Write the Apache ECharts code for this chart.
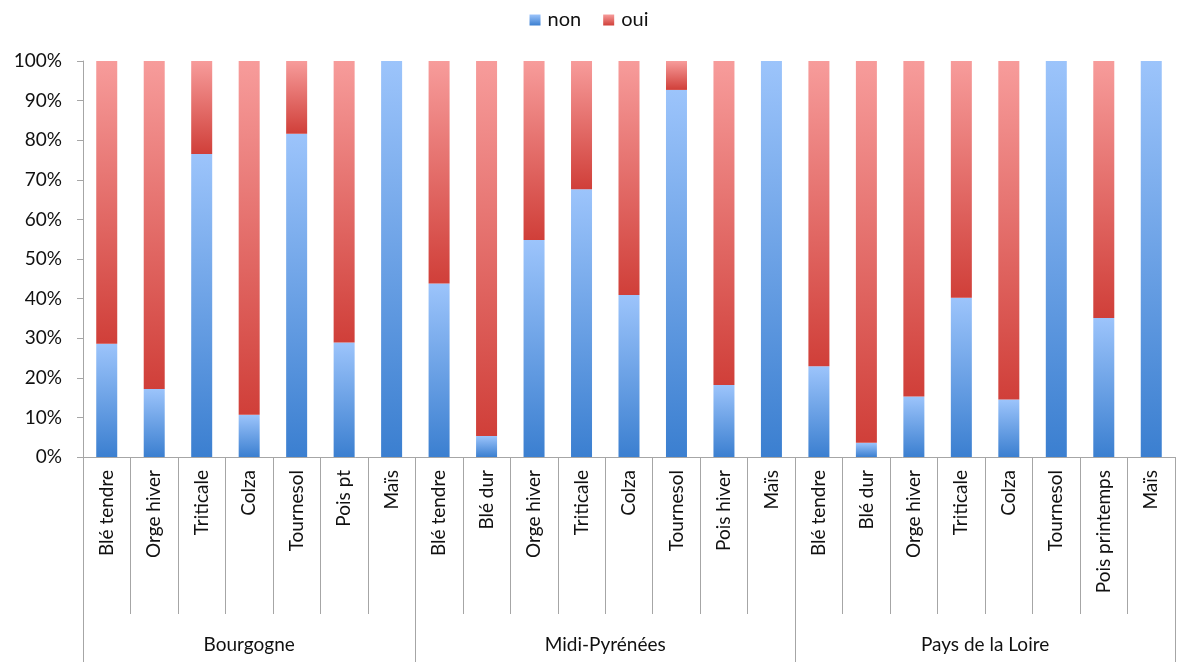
<!DOCTYPE html>
<html>
<head>
<meta charset="utf-8">
<script src="https://cdn.jsdelivr.net/npm/echarts@6/dist/echarts.min.js"></script>
<style>
html,body{margin:0;padding:0;background:#fff;}
#chart{width:1178px;height:663px;}
</style>
</head>
<body>
<div id="chart"></div>
<script>
// Categories (crop per region)
const crops = [
  'Blé tendre','Orge hiver','Triticale','Colza','Tournesol','Pois pt','Maïs',
  'Blé tendre','Blé dur','Orge hiver','Triticale','Colza','Tournesol','Pois hiver','Maïs',
  'Blé tendre','Blé dur','Orge hiver','Triticale','Colza','Tournesol','Pois printemps','Maïs'
];
const regions = ['Bourgogne','Midi-Pyrénées','Pays de la Loire'];
const regionSizes = [7, 8, 8];
// share "non" (%)
const nonValues = [
  28.6, 17.2, 76.5, 10.7, 81.6, 28.9, 100,
  43.8, 5.3, 54.8, 67.6, 40.9, 92.7, 18.2, 100,
  22.9, 3.6, 15.3, 40.2, 14.5, 100, 35.1, 100
];
// share "oui" (%)
const ouiValues = [
  71.4, 82.8, 23.5, 89.3, 18.4, 71.1, 0,
  56.2, 94.7, 45.2, 32.4, 59.1, 7.3, 81.8, 0,
  77.1, 96.4, 84.7, 59.8, 85.5, 0, 64.9, 0
];
const yTicks = [0,10,20,30,40,50,60,70,80,90,100];

// region boundaries & centres (in category units)
const boundaries = [];
const centres = {};
let acc = 0;
regionSizes.forEach((n, i) => {
  boundaries.push(acc);
  centres[acc + n / 2] = regions[i];
  acc += n;
});
const regionPerCat = [];
regionSizes.forEach((n, i) => { for (let k = 0; k < n; k++) regionPerCat.push(regions[i]); });

const FONT = 'Lato, "Open Sans", sans-serif';
const FS = 19;
const axisGray = '#a6a6a6';
const txt = '#111';

const blueGrad = new echarts.graphic.LinearGradient(0, 0, 0, 1, [
  {offset: 0, color: '#9cc4fb'}, {offset: 1, color: '#3b7fd0'}
]);
const redGrad = new echarts.graphic.LinearGradient(0, 0, 0, 1, [
  {offset: 0, color: '#f79c9b'}, {offset: 1, color: '#d03f39'}
]);

const chart = echarts.init(document.getElementById('chart'), null, {renderer: 'canvas'});
chart.setOption({
  animation: false,
  textStyle: {fontFamily: FONT},
  legend: {
    top: 5, left: 'center',
    icon: 'rect', itemWidth: 11, itemHeight: 11, itemGap: 22,
    textStyle: {fontSize: 20, color: txt, fontFamily: FONT, padding: [0, 0, 0, 2]},
    data: ['non', 'oui']
  },
  grid: {left: 83, top: 61, width: 1100, height: 396, containLabel: false},
  yAxis: {
    type: 'value', min: 0, max: 100, interval: 10,
    axisLine: {show: true, lineStyle: {color: axisGray}},
    axisTick: {show: true, length: 6, lineStyle: {color: axisGray}},
    splitLine: {show: false},
    axisLabel: {
      fontSize: FS, color: txt, margin: 21, fontFamily: FONT,
      formatter: v => (yTicks.indexOf(v) >= 0 ? v + '%' : '')
    }
  },
  xAxis: [
    {
      type: 'category', data: crops, position: 'bottom',
      axisLine: {show: true, lineStyle: {color: axisGray}},
      axisTick: {show: true, interval: 0, length: 157, lineStyle: {color: axisGray}},
      axisLabel: {interval: 0, rotate: 90, fontSize: FS, color: txt, margin: 13, fontFamily: FONT}
    },
    {
      type: 'category', data: regionPerCat, position: 'bottom',
      axisLine: {show: false},
      axisTick: {show: true, length: 205, lineStyle: {color: axisGray},
        interval: (idx) => boundaries.indexOf(idx) >= 0},
      axisLabel: {show: false}
    },
    {
      type: 'value', min: 0, max: crops.length, interval: 0.5, position: 'bottom', offset: 178,
      axisLine: {show: false}, axisTick: {show: false}, splitLine: {show: false},
      axisLabel: {
        show: true, fontSize: FS, color: txt, margin: 0, fontFamily: FONT,
        showMinLabel: true, showMaxLabel: true, hideOverlap: false,
        formatter: v => centres[v] || ''
      }
    }
  ],
  series: [
    {
      name: 'non', type: 'bar', stack: 'total', xAxisIndex: 0, barWidth: 21,
      itemStyle: {color: blueGrad},
      data: nonValues
    },
    {
      name: 'oui', type: 'bar', stack: 'total', xAxisIndex: 0, barWidth: 21,
      itemStyle: {color: redGrad},
      data: ouiValues
    }
  ]
});
</script>
</body>
</html>
